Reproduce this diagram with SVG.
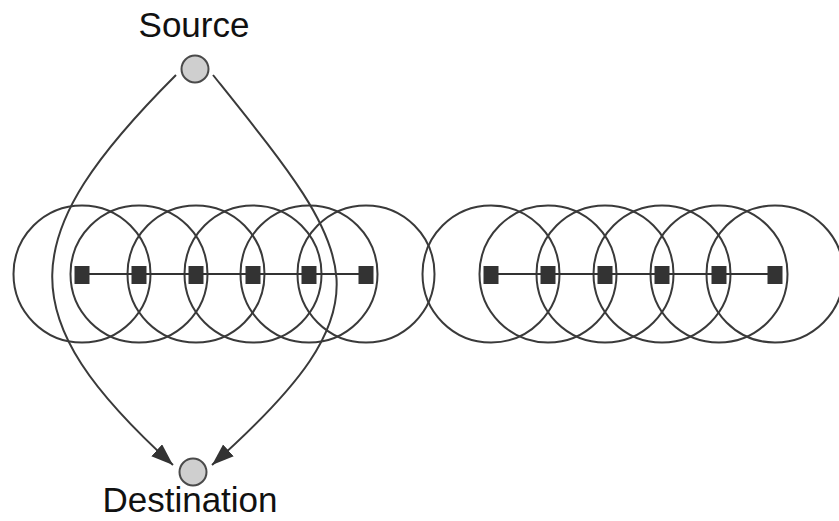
<svg xmlns="http://www.w3.org/2000/svg" width="839" height="521" viewBox="0 0 839 521">
  <defs>
    <style>
      .range { fill: none; stroke: #3a3a3a; stroke-width: 2; }
      .link { stroke: #333; stroke-width: 2; }
      .relay { fill: #333; }
      .end { fill: #cfcfcf; stroke: #4a4a4a; stroke-width: 2; }
      .route { fill: none; stroke: #3a3a3a; stroke-width: 2; }
      .label { font-family: "Liberation Sans", Arial, sans-serif; font-size: 35px; fill: #111; text-anchor: middle; }
    </style>
    <marker id="arrow" markerUnits="userSpaceOnUse" markerWidth="24" markerHeight="18" refX="22" refY="8" orient="auto">
      <path d="M0,0 L22,8 L0,16 Z" fill="#333"/>
    </marker>
  </defs>

  <rect width="839" height="521" fill="#fff"/>

  <!-- left chain: transmission ranges, link, relays -->
  <g id="chain-left">
    <circle class="range" cx="82" cy="274" r="68.5"/>
    <circle class="range" cx="139" cy="274" r="68.5"/>
    <circle class="range" cx="196" cy="274" r="68.5"/>
    <circle class="range" cx="253" cy="274" r="68.5"/>
    <circle class="range" cx="309" cy="274" r="68.5"/>
    <circle class="range" cx="366" cy="274" r="68.5"/>
    <line class="link" x1="82" y1="274" x2="366" y2="274"/>
    <rect class="relay" x="74.5" y="266" width="15" height="18"/>
    <rect class="relay" x="131.5" y="266" width="15" height="18"/>
    <rect class="relay" x="188.5" y="266" width="15" height="18"/>
    <rect class="relay" x="245.5" y="266" width="15" height="18"/>
    <rect class="relay" x="301.5" y="266" width="15" height="18"/>
    <rect class="relay" x="358.5" y="266" width="15" height="18"/>
  </g>

  <!-- right chain -->
  <g id="chain-right">
    <circle class="range" cx="491" cy="274" r="68.5"/>
    <circle class="range" cx="548" cy="274" r="68.5"/>
    <circle class="range" cx="605" cy="274" r="68.5"/>
    <circle class="range" cx="662" cy="274" r="68.5"/>
    <circle class="range" cx="719" cy="274" r="68.5"/>
    <circle class="range" cx="775" cy="274" r="68.5"/>
    <line class="link" x1="491" y1="274" x2="775" y2="274"/>
    <rect class="relay" x="483.5" y="266" width="15" height="18"/>
    <rect class="relay" x="540.5" y="266" width="15" height="18"/>
    <rect class="relay" x="597.5" y="266" width="15" height="18"/>
    <rect class="relay" x="654.5" y="266" width="15" height="18"/>
    <rect class="relay" x="711.5" y="266" width="15" height="18"/>
    <rect class="relay" x="767.5" y="266" width="15" height="18"/>
  </g>

  <!-- routes from source to destination -->
  <g id="connectors">
    <path class="route" d="M176,75 C14,237 9,316 173,465" marker-end="url(#arrow)"/>
    <path class="route" d="M213,75 C357,255 398,299 212,465" marker-end="url(#arrow)"/>
  </g>

  <g id="source">
    <circle class="end" cx="195" cy="69" r="13.5"/>
    <text class="label" x="194" y="37">Source</text>
  </g>

  <g id="destination">
    <circle class="end" cx="193" cy="472" r="13.5"/>
    <text class="label" x="190" y="512">Destination</text>
  </g>
</svg>
